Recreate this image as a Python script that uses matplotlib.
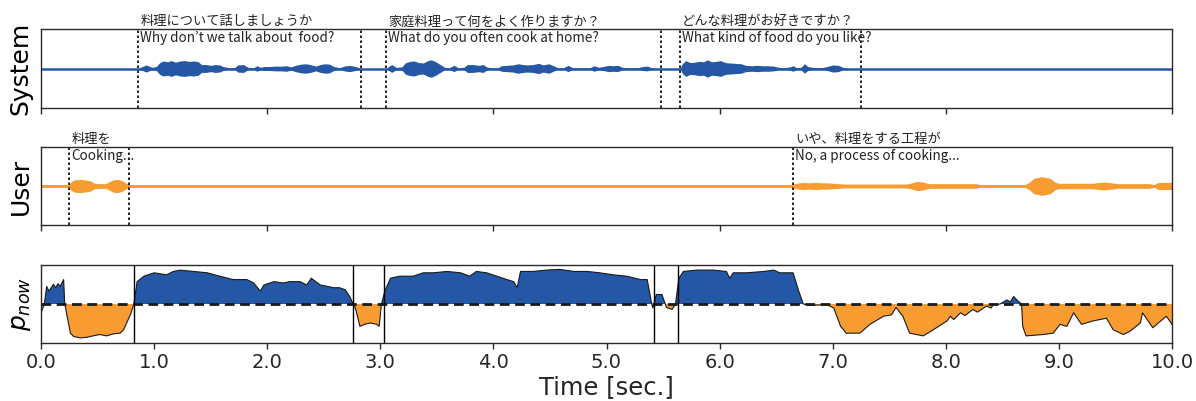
import numpy as np
import matplotlib
matplotlib.use("Agg")
import matplotlib.pyplot as plt

# ---------------- data ----------------
BLUE = "#2458a6"
ORANGE = "#f89c31"

# System waveform envelope (time [s], half amplitude)
sys_t = [0.0, 0.86, 0.88, 0.93, 0.98, 1.02, 1.05, 1.08, 1.12, 1.15, 1.19, 1.23, 1.27, 1.31, 1.35, 1.39,
         1.42, 1.46, 1.50, 1.54, 1.58, 1.61, 1.66, 1.71, 1.74, 1.79, 1.83, 1.88, 1.91, 1.94, 1.97,
         2.02, 2.07, 2.12, 2.17, 2.21, 2.25, 2.30, 2.34, 2.38, 2.43, 2.47, 2.51, 2.55, 2.59, 2.64,
         2.68, 2.73, 2.78, 2.81, 2.83,
         3.05, 3.07, 3.10, 3.14, 3.19, 3.22, 3.26, 3.30, 3.34, 3.38, 3.42, 3.45, 3.49, 3.53, 3.57,
         3.61, 3.65, 3.69, 3.74, 3.77, 3.82, 3.87, 3.91, 3.94, 3.98, 4.04, 4.07, 4.12, 4.17, 4.22,
         4.26, 4.30, 4.35, 4.40, 4.44, 4.49, 4.53, 4.57, 4.62, 4.66, 4.70, 4.75, 4.85, 4.89, 4.93,
         4.97, 5.02, 5.06, 5.10, 5.14, 5.20, 5.28, 5.32, 5.36, 5.40, 5.45,
         5.65, 5.67, 5.70, 5.74, 5.78, 5.82, 5.86, 5.89, 5.93, 5.97, 6.01, 6.05, 6.09, 6.14, 6.19,
         6.23, 6.28, 6.33, 6.38, 6.43, 6.48, 6.52, 6.57, 6.62, 6.65, 6.68, 6.72, 6.75, 6.78, 6.84,
         6.90, 6.95, 7.00, 7.05, 7.09, 7.13, 10.0]
sys_amp = [0.0, 0.0, 0.03, 0.09, 0.03, 0.05, 0.15, 0.19, 0.17, 0.20, 0.16, 0.19, 0.20, 0.18, 0.19, 0.17,
           0.10, 0.10, 0.08, 0.10, 0.09, 0.05, 0.02, 0.02, 0.09, 0.10, 0.03, 0.02, 0.07, 0.03, 0.05,
           0.05, 0.06, 0.06, 0.07, 0.04, 0.08, 0.11, 0.12, 0.10, 0.06, 0.10, 0.12, 0.11, 0.05, 0.02,
           0.06, 0.08, 0.05, 0.02, 0.0,
           0.0, 0.04, 0.10, 0.03, 0.04, 0.14, 0.18, 0.19, 0.15, 0.14, 0.20, 0.22, 0.17, 0.10, 0.03,
           0.02, 0.08, 0.02, 0.03, 0.10, 0.10, 0.08, 0.10, 0.04, 0.015, 0.02, 0.07, 0.08, 0.09, 0.12,
           0.10, 0.09, 0.10, 0.13, 0.09, 0.12, 0.07, 0.02, 0.02, 0.08, 0.02, 0.015, 0.015, 0.07, 0.03,
           0.05, 0.08, 0.07, 0.08, 0.03, 0.015, 0.02, 0.05, 0.06, 0.02, 0.0,
           0.0, 0.12, 0.20, 0.15, 0.16, 0.18, 0.17, 0.22, 0.17, 0.18, 0.20, 0.15, 0.14, 0.13, 0.12,
           0.08, 0.07, 0.08, 0.07, 0.07, 0.06, 0.03, 0.02, 0.04, 0.07, 0.02, 0.03, 0.12, 0.05, 0.02,
           0.02, 0.05, 0.09, 0.08, 0.03, 0.0, 0.0]

# User waveform envelope (time [s], half amplitude)
user_t = [0.0, 0.24, 0.27, 0.30, 0.35, 0.40, 0.44, 0.47, 0.52, 0.57, 0.60, 0.64, 0.68, 0.72, 0.76, 0.79,
          6.63, 6.66, 6.70, 6.75, 6.80, 6.85, 6.90, 6.95, 7.00, 7.05, 7.10, 7.40, 7.65, 7.70, 7.75,
          7.80, 7.85, 8.27, 8.30, 8.70, 8.74, 8.78, 8.85, 8.92, 8.97, 9.00, 9.30, 9.35, 9.40, 9.47,
          9.52, 9.80, 9.84, 9.88, 10.0]
user_amp = [0.03, 0.03, 0.12, 0.16, 0.17, 0.15, 0.13, 0.07, 0.06, 0.06, 0.10, 0.16, 0.17, 0.13, 0.06, 0.03,
            0.03, 0.06, 0.08, 0.09, 0.08, 0.09, 0.08, 0.08, 0.07, 0.06, 0.05, 0.05, 0.05, 0.08, 0.12,
            0.10, 0.06, 0.06, 0.035, 0.035, 0.10, 0.20, 0.24, 0.20, 0.09, 0.07, 0.07, 0.09, 0.10, 0.08,
            0.06, 0.06, 0.035, 0.09, 0.09]

# p_now curve
p_t = [0.00, 0.03, 0.05, 0.07, 0.09, 0.11, 0.13, 0.15, 0.17, 0.20, 0.21, 0.26, 0.29, 0.35, 0.41, 0.46,
       0.52, 0.58, 0.64, 0.70, 0.73, 0.79, 0.82, 0.85, 0.91, 1.00, 1.11, 1.17, 1.23, 1.35, 1.47,
       1.58, 1.70, 1.82, 1.88, 1.94, 1.97, 2.06, 2.14, 2.20, 2.29, 2.35, 2.39, 2.47, 2.53, 2.59,
       2.64, 2.69, 2.73, 2.76, 2.78, 2.82, 2.86, 2.91, 2.97, 2.99, 3.01, 3.04, 3.09, 3.17, 3.29,
       3.38, 3.47, 3.59, 3.71, 3.79, 3.85, 3.94, 4.03, 4.12, 4.18, 4.21, 4.24, 4.35, 4.47, 4.59,
       4.71, 4.83, 4.94, 5.06, 5.18, 5.30, 5.36, 5.40, 5.41, 5.44, 5.49, 5.52, 5.53, 5.58, 5.61,
       5.64, 5.68, 5.80, 5.94, 6.06, 6.09, 6.12, 6.24, 6.39, 6.48, 6.53, 6.65, 6.70, 6.74, 6.80,
       6.95, 7.01, 7.07, 7.12, 7.24, 7.33, 7.45, 7.52, 7.56, 7.62, 7.68, 7.80, 7.89, 8.01, 8.04,
       8.07, 8.13, 8.17, 8.24, 8.28, 8.36, 8.40, 8.42, 8.48, 8.54, 8.57, 8.60, 8.64, 8.67, 8.68,
       8.71, 8.86, 8.95, 9.01, 9.07, 9.13, 9.20, 9.30, 9.42, 9.48, 9.57, 9.63, 9.72, 9.74, 9.83,
       9.95, 10.0]
p_now = [0.37, 0.50, 0.76, 0.69, 0.74, 0.79, 0.74, 0.80, 0.76, 0.86, 0.50, 0.07, 0.02, 0.00, 0.01, 0.03,
         0.05, 0.03, 0.06, 0.07, 0.12, 0.34, 0.49, 0.83, 0.91, 0.96, 0.93, 0.98, 1.00, 0.98, 0.96,
         0.91, 0.86, 0.86, 0.81, 0.69, 0.78, 0.83, 0.81, 0.83, 0.83, 0.78, 0.88, 0.78, 0.76, 0.74,
         0.74, 0.71, 0.61, 0.50, 0.44, 0.17, 0.20, 0.22, 0.20, 0.17, 0.50, 0.69, 0.88, 0.91, 0.91,
         0.96, 0.96, 0.98, 0.96, 0.91, 0.98, 0.96, 0.91, 0.86, 0.83, 0.74, 0.98, 0.98, 1.00, 1.01,
         0.98, 0.98, 0.96, 0.93, 0.91, 0.86, 0.86, 0.50, 0.44, 0.64, 0.64, 0.50, 0.45, 0.42, 0.50,
         0.88, 0.98, 1.00, 1.00, 0.98, 0.88, 0.96, 0.96, 0.98, 1.00, 0.96, 0.96, 0.69, 0.50, 0.48,
         0.49, 0.44, 0.17, 0.07, 0.07, 0.20, 0.32, 0.34, 0.45, 0.32, 0.07, 0.03, 0.12, 0.25, 0.32,
         0.27, 0.37, 0.33, 0.42, 0.38, 0.47, 0.44, 0.49, 0.50, 0.56, 0.53, 0.61, 0.54, 0.50, 0.17,
         0.03, 0.05, 0.07, 0.20, 0.17, 0.37, 0.20, 0.25, 0.29, 0.12, 0.05, 0.10, 0.22, 0.37, 0.15,
         0.32, 0.20]
threshold = 0.5

# utterance boundaries
sys_bounds = [0.86, 2.83, 3.05, 5.48, 5.65, 7.25]
user_bounds = [0.25, 0.78, 6.65]
turn_lines = [0.82, 2.76, 3.03, 5.42, 5.63]

sys_jp = ["料理について話しましょうか", "家庭料理って何をよく作りますか？", "どんな料理がお好きですか？"]
sys_en = ["Why don’t we talk about  food?", "What do you often cook at home?", "What kind of food do you like?"]
sys_text_t = [0.86, 3.05, 5.65]
user_jp = ["料理を", "いや、料理をする工程が"]
user_en = ["Cooking...", "No, a process of cooking..."]
user_text_t = [0.25, 6.65]

xticks_top = [0, 2, 4, 6, 8, 10]
xticks_bottom = [0, 1, 2, 3, 4, 5, 6, 7, 8, 9, 10]

# ---------------- figure ----------------
fig = plt.figure(figsize=(11.96, 4.01), dpi=100)
L, W = 41 / 1196, (1172 - 41) / 1196
ax1 = fig.add_axes([L, 1 - 108 / 401, W, 79 / 401])
ax2 = fig.add_axes([L, 1 - 225 / 401, W, 78 / 401])
ax3 = fig.add_axes([L, 1 - 343 / 401, W, 78 / 401])

JP = ["Noto Sans CJK JP", "DejaVu Sans"]
SPINE = "#2a2a2a"

for ax in (ax1, ax2, ax3):
    ax.set_xlim(0, 10)
    ax.set_yticks([])
    for s in ax.spines.values():
        s.set_color(SPINE)
        s.set_linewidth(1.0)
    ax.tick_params(axis="x", direction="out", length=4, width=1, color=SPINE)


def label_utterances(ax, times, jps, ens):
    for tx, jp, en in zip(times, jps, ens):
        ax.annotate(jp, (tx, 1.0), xycoords=("data", "axes fraction"), xytext=(1.5, 0.5),
                    textcoords="offset points", ha="left", va="bottom", fontsize=9.5, family=JP,
                    color="#222222")
        ax.annotate(en, (tx, 1.0), xycoords=("data", "axes fraction"), xytext=(1.5, -1.5),
                    textcoords="offset points", ha="left", va="top", fontsize=9.7, family=JP,
                    color="#222222")


# System waveform
st = np.array(sys_t); sa = np.array(sys_amp)
ax1.fill_between(st, -sa, sa, color=BLUE, lw=0)
ax1.axhline(0, color=BLUE, lw=1.8)
ax1.set_ylim(-1, 1)
for b in sys_bounds:
    ax1.axvline(b, color="black", ls=(0, (1.5, 1.5)), lw=1.2)
label_utterances(ax1, sys_text_t, sys_jp, sys_en)
ax1.set_xticks(xticks_top)
ax1.set_xticklabels([])
ax1.set_ylabel("System", fontsize=18, labelpad=6)

# User waveform
ut = np.array(user_t); ua = np.array(user_amp)
ax2.fill_between(ut, -ua, ua, color=ORANGE, lw=0)
ax2.axhline(0, color=ORANGE, lw=1.8)
ax2.set_ylim(-1, 1)
for b in user_bounds:
    ax2.axvline(b, color="black", ls=(0, (1.5, 1.5)), lw=1.2)
label_utterances(ax2, user_text_t, user_jp, user_en)
ax2.set_xticks(xticks_top)
ax2.set_xticklabels([])
ax2.set_ylabel("User", fontsize=18, labelpad=6)

# p_now
pt = np.array(p_t); pv = np.array(p_now)
ax3.fill_between(pt, threshold, pv, where=pv >= threshold, interpolate=True, color=BLUE, lw=0)
ax3.fill_between(pt, threshold, pv, where=pv <= threshold, interpolate=True, color=ORANGE, lw=0)
ax3.plot(pt, pv, color="#1a1a1a", lw=0.8)
ax3.axhline(threshold, color="#1a1a1a", lw=2, ls=(0, (3.5, 2)))
for b in turn_lines:
    ax3.axvline(b, color="black", lw=1.0)
ax3.set_ylim(-0.075, 1.075)
ax3.set_xticks(xticks_bottom)
ax3.set_xticklabels([f"{v:.1f}" for v in xticks_bottom], fontsize=14, color="#262626")
ax3.set_ylabel(r"$p_{now}$", fontsize=18, labelpad=6)
ax3.set_xlabel("Time [sec.]", fontsize=17.5, color="#262626", labelpad=2)

fig.savefig("out.png", dpi=100)
